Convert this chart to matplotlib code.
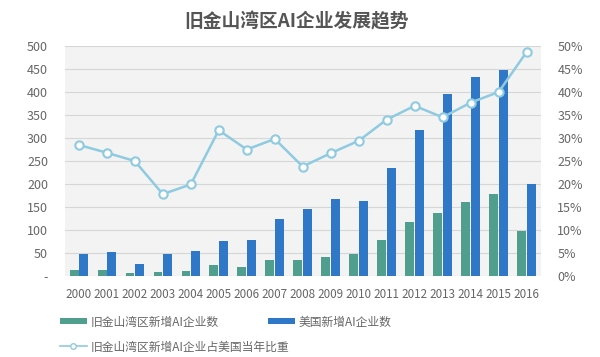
import matplotlib
matplotlib.use("Agg")
import matplotlib.pyplot as plt
from matplotlib.lines import Line2D
import numpy as np

plt.rcParams['font.family'] = ['Noto Sans CJK SC', 'DejaVu Sans']

years = [str(y) for y in range(2000, 2017)]
# 旧金山湾区新增AI企业数
bay_area = [13, 13, 6, 8, 10, 24, 20, 35, 34, 42, 48, 78, 117, 136, 161, 179, 97]
# 美国新增AI企业数
usa = [48, 52, 26, 48, 54, 77, 78, 123, 145, 167, 164, 234, 317, 396, 433, 448, 201]
# 占比 (%)
share = [28.5, 26.8, 25.0, 17.8, 19.9, 31.7, 27.5, 29.8, 23.8, 26.7, 29.4,
         34.0, 37.0, 34.5, 37.7, 40.0, 48.7]

left_ticks = [0, 50, 100, 150, 200, 250, 300, 350, 400, 450, 500]
left_labels = ['-'] + [str(v) for v in left_ticks[1:]]
right_ticks = [0, 5, 10, 15, 20, 25, 30, 35, 40, 45, 50]

green = '#4f9e8e'
blue = '#2f78c8'
light = '#8fcbe0'
txt = '#666666'

fig = plt.figure(figsize=(6, 3.57), dpi=100)
ax = fig.add_axes([0.108, 0.227, 0.793, 0.644])
ax.set_facecolor('#f3f3f3')

x = np.arange(len(years))
w = 0.32
b1 = ax.bar(x - 0.17, bay_area, w, color=green, label='旧金山湾区新增AI企业数', zorder=3)
b2 = ax.bar(x + 0.17, usa, w, color=blue, label='美国新增AI企业数', zorder=3)
ax.set_ylim(0, 500)
ax.set_xlim(-0.5, len(years) - 0.5)
ax.set_yticks(left_ticks)
ax.set_yticklabels(left_labels)
ax.grid(axis='y', color='#d6d6d6', linewidth=0.8, zorder=0)
ax.set_xticks(x)
ax.set_xticklabels(years)
ax.tick_params(axis='both', length=0, colors=txt)
ax.tick_params(axis='x', labelsize=8.4, pad=9)
ax.tick_params(axis='y', labelsize=9, pad=12)
for s in ax.spines.values():
    s.set_visible(False)

ax2 = ax.twinx()
ax2.plot(x, share, color=light, linewidth=1.8, marker='o', markersize=6,
         markerfacecolor='white', markeredgecolor=light, markeredgewidth=1.5,
         zorder=4)
ax2.set_ylim(0, 50)
ax2.set_yticks(right_ticks)
ax2.set_yticklabels([f'{v}%' for v in right_ticks])
ax2.tick_params(axis='y', length=0, colors=txt, labelsize=9, pad=12)
for s in ax2.spines.values():
    s.set_visible(False)

fig.text(0.495, 0.938, '旧金山湾区AI企业发展趋势', ha='center', va='center',
         fontsize=13.5, fontweight='bold', color='#555555')

ln = Line2D([], [], color=light, linewidth=1.2, marker='o', markersize=4,
            markerfacecolor='white', markeredgecolor=light,
            label='旧金山湾区新增AI企业占美国当年比重')

fig.legend(handles=[b1, b2], loc='lower left', bbox_to_anchor=(0.082, 0.05),
           ncol=2, frameon=False, fontsize=8.5, columnspacing=4.2,
           handlelength=2.3, handleheight=0.45, handletextpad=0.3,
           labelcolor=txt)
fig.legend(handles=[ln], loc='lower left', bbox_to_anchor=(0.082, -0.02),
           frameon=False, fontsize=8.5, handlelength=2.3, handletextpad=0.3,
           labelcolor=txt)

fig.savefig('out.png', dpi=100)
